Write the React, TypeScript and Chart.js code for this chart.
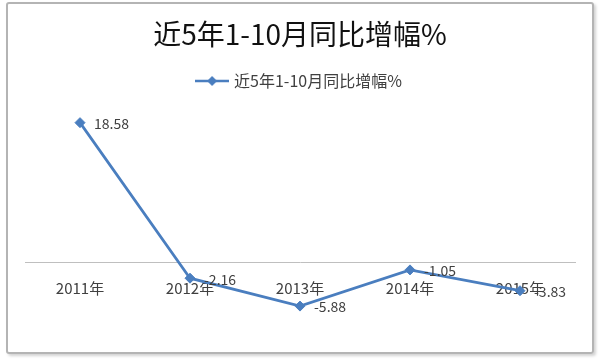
import React, { useEffect, useRef } from "react";
import { Chart, registerables } from "chart.js";

Chart.register(...registerables);

const categories = ["2011年", "2012年", "2013年", "2014年", "2015年"];
const seriesName = "近5年1-10月同比增幅%";
const values = [18.58, -2.16, -5.88, -1.05, -3.83];
const valueLabels = ["18.58", "-2.16", "-5.88", "-1.05", "-3.83"];
const chartTitle = "近5年1-10月同比增幅%";
const yMin = -10;
const yMax = 20;

const FONT = "'Noto Sans CJK SC', 'Noto Sans', sans-serif";
const BLUE = "#4A7EBF";

function makeLegendIcon(): HTMLCanvasElement {
  const c = document.createElement("canvas");
  c.width = 34;
  c.height = 12;
  const ctx = c.getContext("2d")!;
  ctx.strokeStyle = BLUE;
  ctx.lineWidth = 2.5;
  ctx.beginPath();
  ctx.moveTo(0, 6);
  ctx.lineTo(34, 6);
  ctx.stroke();
  ctx.fillStyle = BLUE;
  ctx.beginPath();
  ctx.moveTo(17, 1);
  ctx.lineTo(22, 6);
  ctx.lineTo(17, 11);
  ctx.lineTo(12, 6);
  ctx.closePath();
  ctx.fill();
  return c;
}

const valueLabelPlugin = {
  id: "valueLabels",
  afterDatasetsDraw(chart: any) {
    const meta = chart.getDatasetMeta(0);
    const ctx = chart.ctx;
    ctx.save();
    ctx.font = `14px ${FONT}`;
    ctx.fillStyle = "#404040";
    ctx.textAlign = "left";
    ctx.textBaseline = "middle";
    meta.data.forEach((pt: any, i: number) => {
      ctx.fillText(valueLabels[i], pt.x + 14, pt.y + 1);
    });
    ctx.restore();
  },
};

const legendSpacer = {
  id: "legendSpacer",
  beforeInit(chart: any) {
    const orig = chart.legend.fit;
    chart.legend.fit = function () {
      orig.call(this);
      this.height += 13;
    };
  },
};

export default function App() {
  const ref = useRef<HTMLCanvasElement>(null);

  useEffect(() => {
    document.body.style.margin = "0";
    const icon = makeLegendIcon();
    const chart = new Chart(ref.current!, {
      type: "line",
      data: {
        labels: categories,
        datasets: [
          {
            label: seriesName,
            data: values,
            borderColor: BLUE,
            backgroundColor: BLUE,
            borderWidth: 2.75,
            pointStyle: "rectRot",
            pointRadius: 5,
            pointBackgroundColor: BLUE,
            pointBorderColor: BLUE,
            pointBorderWidth: 1,
            tension: 0,
          },
        ],
      },
      options: {
        animation: false,
        responsive: false,
        devicePixelRatio: 1,
        layout: { padding: { left: 25, right: 25, top: 0, bottom: 22 } },
        plugins: {
          title: {
            display: true,
            text: chartTitle,
            color: "#111111",
            font: { family: FONT, size: 28, weight: "normal" },
            padding: { top: 18, bottom: 11.4 },
          },
          legend: {
            display: true,
            position: "top",
            labels: {
              usePointStyle: true,
              pointStyle: icon as any,
              pointStyleWidth: 28,
              color: "#404040",
              font: { family: FONT, size: 16 },
              padding: 10,
            },
          },
          tooltip: { enabled: false },
        },
        scales: {
          x: {
            type: "category",
            position: { y: 0 } as any,
            offset: true,
            grid: { display: false, drawTicks: false },
            border: { display: true, color: "#BFBFBF", width: 1 },
            ticks: {
              color: "#404040",
              font: { family: FONT, size: 15 },
              padding: 17,
              maxRotation: 0,
            },
          },
          y: {
            type: "linear",
            display: false,
            min: yMin,
            max: yMax,
          },
        },
      },
      plugins: [valueLabelPlugin, legendSpacer],
    });
    return () => chart.destroy();
  }, []);

  return (
    <div style={{ position: "relative", width: 600, height: 359, background: "#fff" }}>
      <div
        style={{
          position: "absolute",
          left: 6,
          top: 2,
          width: 588,
          height: 352,
          boxSizing: "border-box",
          border: "2px solid #B4B4B4",
          borderRadius: 3,
          boxShadow: "2px 2px 3px rgba(0,0,0,0.18)",
        }}
      />
      <canvas
        ref={ref}
        width={600}
        height={359}
        style={{ position: "absolute", left: 0, top: 0, width: 600, height: 359 }}
      />
    </div>
  );
}
